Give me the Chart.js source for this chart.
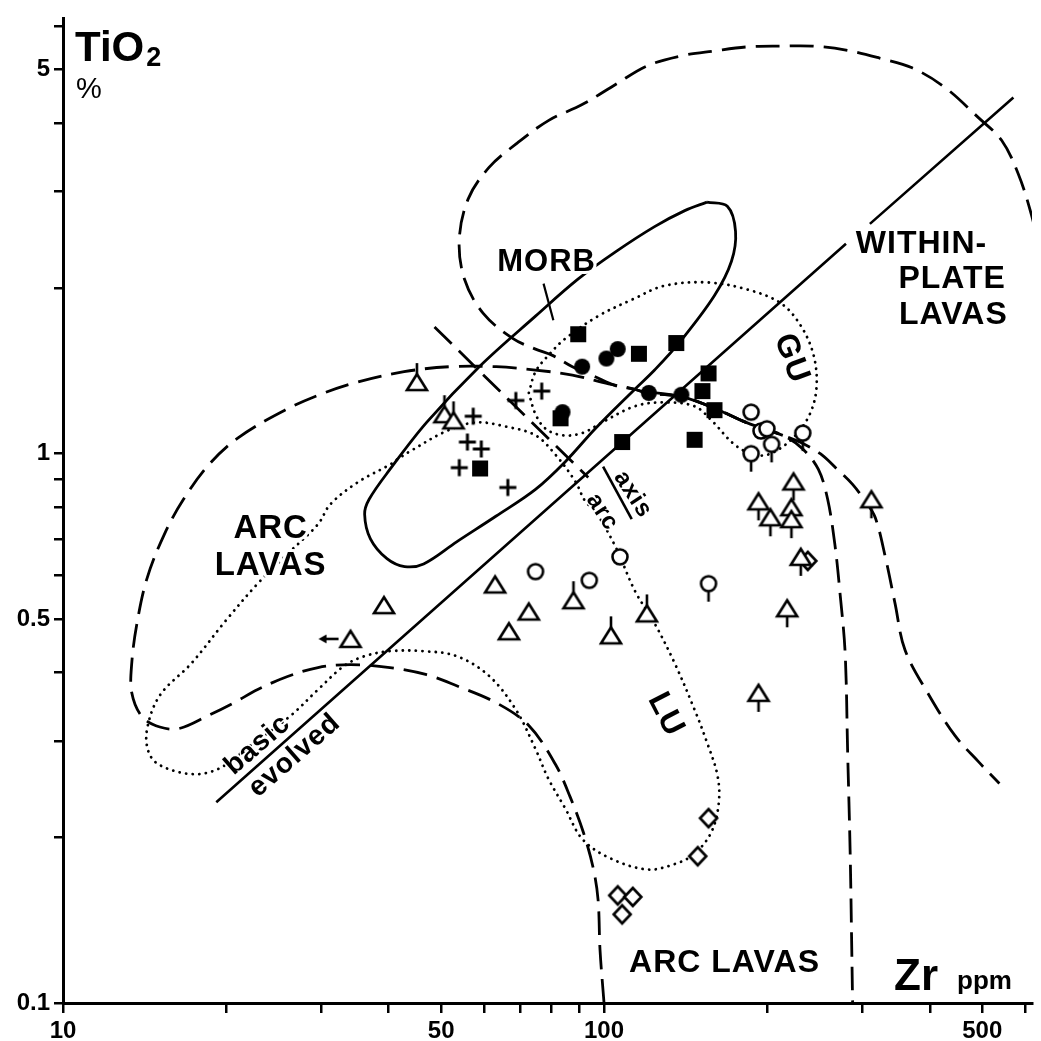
<!DOCTYPE html>
<html>
<head>
<meta charset="utf-8">
<script src="https://cdn.jsdelivr.net/npm/chart.js@4.4.1/dist/chart.umd.min.js"></script>
<style>
  html, body { margin: 0; padding: 0; background: #fff; }
  canvas { display: block; }
</style>
</head>
<body>
<canvas id="c" width="1041" height="1041"></canvas>
<script>
// axis ticks (Zr ppm / TiO2 %), log-log
const xTicks = [10, 20, 30, 40, 50, 60, 70, 80, 90, 100, 200, 300, 400, 500, 600];
const xTickLabels = [10, 50, 100, 500];
const yTicks = [0.1, 0.2, 0.3, 0.4, 0.5, 0.6, 0.7, 0.8, 0.9, 1, 2, 3, 4, 5, 6];
const yTickLabels = [0.1, 0.5, 1, 5];

// samples [Zr, TiO2]
const filledSquares = [[89.6, 1.65], [116, 1.52], [136, 1.59], [156, 1.40], [152, 1.30], [160, 1.20], [147, 1.06], [108, 1.05], [83.1, 1.16], [59.0, 0.94]];
const filledCircles = [[91.1, 1.44], [101, 1.49], [106, 1.55], [121, 1.29], [139, 1.28], [83.8, 1.19]];
const crosses = [[76.7, 1.30], [68.7, 1.25], [57.3, 1.17], [55.9, 1.05], [59.3, 1.02], [54.0, 0.943], [66.4, 0.868]];
const trianglesStemUp = [[45.1, 1.35], [50.7, 1.18], [52.7, 1.15], [87.8, 0.541], [103, 0.467], [120, 0.512]];
const trianglesStemDown = [[224, 0.890], [193, 0.819], [203, 0.766], [222, 0.799], [222, 0.760], [312, 0.826], [231, 0.649], [218, 0.523], [193, 0.367]];
const triangles = [[39.2, 0.530], [62.9, 0.578], [72.6, 0.516], [66.7, 0.475]];
const triangleArrow = [[34.0, 0.460]];
const openCircles = [[74.7, 0.610], [93.9, 0.588], [107, 0.649], [187, 1.19], [195, 1.10], [200, 1.11]];
const openCirclesStem = [[156, 0.580], [204, 1.04], [187, 1.00], [233, 1.09]];
const diamonds = [[238, 0.638], [156, 0.217], [149, 0.185], [106, 0.157], [113, 0.156], [108, 0.145]];

// field boundaries [Zr, TiO2]
const morbField = [[155, 2.87], [169, 2.82], [175, 2.54], [172, 2.24], [160, 1.94], [139, 1.61], [124, 1.42], [114, 1.31], [96.3, 1.11], [84.8, 0.967], [74.7, 0.861], [63.2, 0.770], [53.4, 0.691], [46.4, 0.630], [42.8, 0.623], [39.7, 0.644], [37.0, 0.700], [36.1, 0.776], [36.8, 0.826], [40.2, 0.936], [47.0, 1.14], [58.8, 1.44], [74.7, 1.78], [89.6, 2.08], [105, 2.33], [124, 2.59], [141, 2.77], [155, 2.87]];
const withinPlateField = [[642, 2.29], [616, 2.73], [583, 3.23], [543, 3.72], [492, 4.09], [427, 4.64], [371, 5.04], [323, 5.25], [280, 5.43], [243, 5.52], [212, 5.52], [183, 5.50], [160, 5.41], [139, 5.30], [120, 5.08], [105, 4.70], [91.1, 4.32], [78.9, 4.04], [68.7, 3.66], [61.3, 3.32], [56.1, 2.91], [54.0, 2.45], [55.2, 2.08], [59.8, 1.80], [67.9, 1.62], [74.7, 1.55], [80.3, 1.51], [87.4, 1.44], [96.3, 1.38], [105, 1.33], [114, 1.31], [120, 1.29], [139, 1.27], [160, 1.21], [183, 1.14], [214, 1.08], [230, 1.05], [251, 1.00], [270, 0.936], [288, 0.879], [304, 0.819], [317, 0.766], [331, 0.649], [345, 0.534], [360, 0.439], [399, 0.363], [445, 0.307], [492, 0.275], [538, 0.251]];
const arcField = [[100, 0.1], [98.3, 0.125], [97.5, 0.154], [95.5, 0.176], [91.5, 0.205], [86.6, 0.237], [81.3, 0.272], [72.6, 0.320], [63.2, 0.352], [53.4, 0.378], [47.0, 0.396], [40.2, 0.408], [34.0, 0.413], [29.6, 0.408], [26.0, 0.393], [22.9, 0.372], [20.7, 0.352], [18.6, 0.334], [16.4, 0.316], [15.1, 0.318], [14.0, 0.332], [13.4, 0.367], [13.4, 0.416], [13.7, 0.491], [14.3, 0.593], [15.4, 0.714], [16.7, 0.826], [18.6, 0.955], [21.1, 1.07], [25.7, 1.20], [30.4, 1.29], [35.0, 1.35], [42.7, 1.41], [51.8, 1.44], [63.2, 1.44], [74.7, 1.42], [87.4, 1.39], [102, 1.34], [114, 1.31], [120, 1.29], [139, 1.27], [160, 1.21], [183, 1.14], [214, 1.08], [233, 1.02], [249, 0.936], [259, 0.826], [267, 0.685], [273, 0.557], [279, 0.434], [282, 0.286], [285, 0.189], [287, 0.125], [288, 0.1]];
const sharedEdge = [[117, 1.30], [139, 1.27], [160, 1.21], [183, 1.14], [214, 1.08]];
const guField = [[72.6, 1.29], [74.7, 1.41], [78.9, 1.51], [84.8, 1.62], [97.5, 1.78], [113, 1.91], [129, 2.02], [155, 2.05], [184, 1.99], [212, 1.88], [231, 1.71], [244, 1.51], [247, 1.32], [240, 1.18], [224, 1.07], [203, 1.00], [189, 0.996], [174, 1.04], [158, 1.15], [147, 1.22], [129, 1.24], [114, 1.22], [99.2, 1.14], [91.1, 1.09], [83.8, 1.08], [78.0, 1.11], [74.7, 1.18], [72.6, 1.29]];
const luField = [[41.4, 0.975], [40.2, 0.955], [35.0, 0.886], [31.2, 0.809], [29.6, 0.744], [26.0, 0.657], [22.9, 0.580], [20.0, 0.497], [17.3, 0.416], [15.1, 0.363], [14.3, 0.315], [14.4, 0.286], [15.1, 0.271], [17.3, 0.261], [19.4, 0.267], [22.0, 0.292], [26.4, 0.334], [29.6, 0.372], [33.1, 0.411], [36.1, 0.428], [40.2, 0.437], [46.4, 0.437], [53.4, 0.428], [61.3, 0.394], [68.7, 0.342], [74.7, 0.290], [78.9, 0.256], [84.8, 0.226], [91.1, 0.199], [102, 0.184], [120, 0.175], [135, 0.179], [147, 0.187], [158, 0.205], [163, 0.232], [162, 0.260], [155, 0.298], [147, 0.342], [135, 0.416], [124, 0.491], [114, 0.563], [105, 0.677], [96.3, 0.786], [92.3, 0.819], [88.5, 0.890], [81.3, 0.996], [74.7, 1.08], [65.9, 1.12], [58.0, 1.14], [51.2, 1.10], [43.8, 1.01], [41.4, 0.975]];
const basicEvolvedLine = [[19.2, 0.232], [280, 2.41], [295, null], [310, 2.62], [571, 4.45]];
const axisArcLine = [[48.6, 1.70], [93.5, 0.905]];
const axisArcTick = [[99.6, 0.947], [112.5, 0.760]];
const morbPointer = [[77.3, 2.04], [80.6, 1.75]];

const fieldLabels = [
  { text: 'MORB', at: [78.3, 2.23], size: 31, halo: 6 },
  { text: 'WITHIN-', at: [292, 2.41], size: 32, align: 'left', halo: 6 },
  { text: 'PLATE', at: [350, 2.08], size: 32, align: 'left', halo: 6 },
  { text: 'LAVAS', at: [351, 1.79], size: 32, align: 'left', halo: 6 },
  { text: 'ARC', at: [24.2, 0.729], size: 33, halo: 6 },
  { text: 'LAVAS', at: [24.2, 0.625], size: 33, halo: 6 },
  { text: 'ARC LAVAS', at: [167, 0.118], size: 32, halo: 0 },
  { text: 'GU', at: [222, 1.49], size: 32, rot: 70, halo: 4 },
  { text: 'LU', at: [130, 0.335], size: 32, rot: 63, halo: 4 },
  { text: 'basic', at: [22.9, 0.295], size: 28, rot: -41, halo: 3 },
  { text: 'evolved', at: [26.8, 0.282], size: 28, rot: -41, halo: 3 },
  { text: 'axis', at: [113, 0.843], size: 24, rot: 57, halo: 3 },
  { text: 'arc', at: [99.2, 0.783], size: 24, rot: 57, halo: 3 }
];

const FONT = '"Liberation Sans", Arial, sans-serif';

function makeSymbol(w, h, draw) {
  const c = document.createElement('canvas');
  c.width = w; c.height = h;
  const g = c.getContext('2d');
  g.translate(w / 2, h / 2);
  g.strokeStyle = '#000';
  g.fillStyle = '#000';
  g.lineWidth = 2.6;
  g.lineJoin = 'miter';
  draw(g);
  return c;
}
function openTri(g) {
  g.beginPath(); g.moveTo(0, -8); g.lineTo(10, 8); g.lineTo(-10, 8); g.closePath();
  g.fillStyle = '#fff'; g.fill(); g.stroke();
}
function openRing(g) {
  g.beginPath(); g.arc(0, 0, 7.5, 0, Math.PI * 2);
  g.fillStyle = '#fff'; g.fill(); g.stroke();
}
function stem(g, y0, y1) {
  g.beginPath(); g.moveTo(0, y0); g.lineTo(0, y1); g.stroke();
}

const sym = {
  square: makeSymbol(20, 20, g => g.fillRect(-8, -8, 16, 16)),
  dot: makeSymbol(20, 20, g => { g.beginPath(); g.arc(0, 0, 8, 0, Math.PI * 2); g.fill(); }),
  plus: makeSymbol(22, 22, g => {
    g.lineWidth = 3;
    g.beginPath(); g.moveTo(-8.5, 0); g.lineTo(8.5, 0); g.moveTo(0, -8.5); g.lineTo(0, 8.5); g.stroke();
  }),
  tri: makeSymbol(26, 24, openTri),
  triUp: makeSymbol(26, 48, g => { openTri(g); stem(g, -8, -19); }),
  triDown: makeSymbol(26, 48, g => { openTri(g); stem(g, 8, 19); }),
  triArrow: makeSymbol(72, 24, g => {
    openTri(g);
    g.beginPath(); g.moveTo(-12, 0); g.lineTo(-26, 0); g.stroke();
    g.fillStyle = '#000';
    g.beginPath(); g.moveTo(-32, 0); g.lineTo(-24, -4.5); g.lineTo(-24, 4.5); g.closePath(); g.fill();
  }),
  ring: makeSymbol(22, 22, openRing),
  ringStem: makeSymbol(22, 44, g => { openRing(g); stem(g, 7.5, 18); }),
  diamond: makeSymbol(24, 24, g => {
    g.beginPath(); g.moveTo(0, -9); g.lineTo(8.5, 0); g.lineTo(0, 9); g.lineTo(-8.5, 0); g.closePath();
    g.fillStyle = '#fff'; g.fill(); g.stroke();
  })
};

const pts = arr => arr.map(([x, y]) => ({ x, y }));
const symbolSet = (data, style) => ({ data: pts(data), pointStyle: style, pointRadius: 8, showLine: false });
const curveSet = (data, dash, width, tension, cap) => ({
  data: pts(data), showLine: true, borderColor: '#000', borderWidth: width,
  borderDash: dash, borderCapStyle: cap || 'butt', pointRadius: 0, tension: tension, fill: false
});

const DASH = [24, 10];
const DOT = [0.1, 6.5];

const textPlugin = {
  id: 'fieldText',
  afterDatasetsDraw(chart) {
    const { ctx, chartArea: a, scales: { x, y } } = chart;
    ctx.save();
    ctx.fillStyle = '#000';
    ctx.letterSpacing = '1px';
    for (const l of fieldLabels) {
      ctx.save();
      ctx.translate(x.getPixelForValue(l.at[0]), y.getPixelForValue(l.at[1]));
      ctx.rotate((l.rot || 0) * Math.PI / 180);
      ctx.font = `bold ${l.size}px ${FONT}`;
      ctx.textAlign = l.align || 'center';
      ctx.textBaseline = 'middle';
      if (l.halo) {
        ctx.lineWidth = l.halo; ctx.strokeStyle = '#fff'; ctx.lineJoin = 'round';
        ctx.strokeText(l.text, 0, 0);
      }
      ctx.fillText(l.text, 0, 0);
      ctx.restore();
    }
    ctx.letterSpacing = '0px';
    // axis titles inside the frame
    ctx.textAlign = 'left';
    ctx.textBaseline = 'alphabetic';
    ctx.font = `bold 42px ${FONT}`;
    ctx.fillText('TiO', a.left + 12, a.top + 43);
    const w = ctx.measureText('TiO').width;
    ctx.font = `bold 27px ${FONT}`;
    ctx.fillText('2', a.left + 14 + w, a.top + 48);
    ctx.font = `29px ${FONT}`;
    ctx.fillText('%', a.left + 13, a.top + 80);
    ctx.font = `bold 44px ${FONT}`;
    ctx.fillText('Zr', a.right - 138, a.bottom - 13);
    ctx.font = `bold 26px ${FONT}`;
    ctx.fillText('ppm', a.right - 75, a.bottom - 14);
    ctx.restore();
  }
};

const tickFont = { family: FONT, size: 24, weight: 'bold' };

new Chart(document.getElementById('c'), {
  type: 'scatter',
  data: {
    datasets: [
      symbolSet(filledSquares, sym.square),
      symbolSet(filledCircles, sym.dot),
      symbolSet(crosses, sym.plus),
      symbolSet(trianglesStemUp, sym.triUp),
      symbolSet(trianglesStemDown, sym.triDown),
      symbolSet(triangles, sym.tri),
      symbolSet(triangleArrow, sym.triArrow),
      symbolSet(openCircles, sym.ring),
      symbolSet(openCirclesStem, sym.ringStem),
      symbolSet(diamonds, sym.diamond),
      curveSet(morbField, [], 2.8, 0.35),
      curveSet(withinPlateField, DASH, 2.8, 0.35),
      curveSet(arcField, DASH, 2.8, 0.35),
      curveSet(sharedEdge, [], 2.8, 0.3),
      curveSet(guField, DOT, 2.8, 0.35, 'round'),
      curveSet(luField, DOT, 2.8, 0.35, 'round'),
      curveSet(basicEvolvedLine, [], 2.6, 0),
      curveSet(axisArcLine, DASH, 2.8, 0),
      curveSet(axisArcTick, [], 2.6, 0),
      curveSet(morbPointer, [], 2.2, 0)
    ]
  },
  options: {
    responsive: false,
    animation: false,
    events: [],
    layout: { padding: { top: 10, right: 0, bottom: 0, left: 0 } },
    plugins: { legend: { display: false }, tooltip: { enabled: false } },
    scales: {
      x: {
        type: 'logarithmic', bounds: 'data', min: 10, max: 618,
        border: { display: true, color: '#000', width: 3 },
        grid: { drawOnChartArea: false, drawTicks: true, tickLength: 10, color: '#000', lineWidth: 2.5 },
        ticks: {
          color: '#000', font: tickFont, padding: 4, autoSkip: false, maxRotation: 0, minRotation: 0,
          callback: v => xTickLabels.includes(v) ? String(v) : ''
        },
        afterBuildTicks: s => { s.ticks = xTicks.map(v => ({ value: v })); },
        afterFit: s => { s.height = 38; }
      },
      y: {
        type: 'logarithmic', bounds: 'data', min: 0.1, max: 6.2,
        border: { display: true, color: '#000', width: 3 },
        grid: { drawOnChartArea: false, drawTicks: true, tickLength: 9, color: '#000', lineWidth: 2.5 },
        ticks: {
          color: '#000', font: tickFont, padding: 4, autoSkip: false,
          callback: v => yTickLabels.includes(v) ? String(v) : ''
        },
        afterBuildTicks: s => { s.ticks = yTicks.map(v => ({ value: v })); },
        afterFit: s => { s.width = 63; }
      }
    }
  },
  plugins: [textPlugin]
});
</script>
</body>
</html>
